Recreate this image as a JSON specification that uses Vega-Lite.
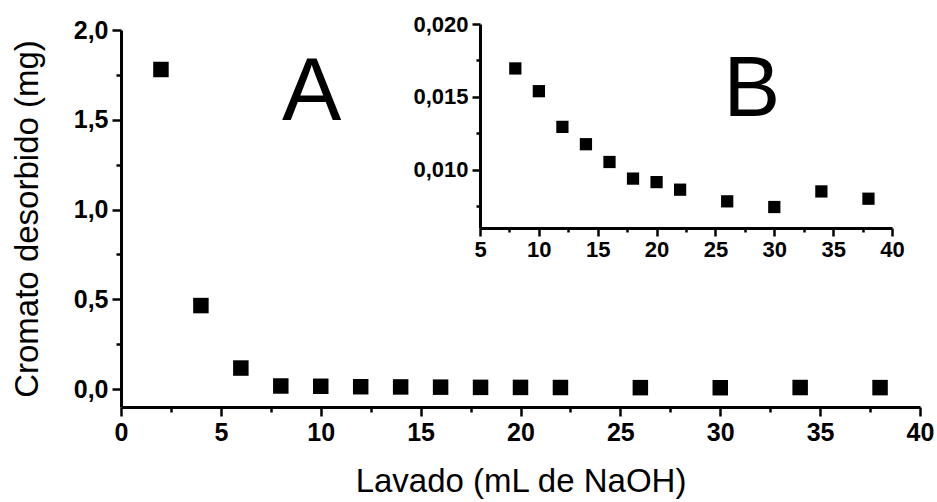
{
  "$schema": "https://vega.github.io/schema/vega-lite/v6.json",
  "width": 799,
  "height": 377,
  "autosize": {"type": "none"},
  "padding": {"left": 121, "top": 30, "right": 17, "bottom": 95},
  "background": "white",
  "config": {"view": {"stroke": null}, "font": "Liberation Sans"},
  "datasets": {
    "main": [
      {"lavado": 2, "cromato": 1.78},
      {"lavado": 4, "cromato": 0.465},
      {"lavado": 6, "cromato": 0.117},
      {"lavado": 8, "cromato": 0.017},
      {"lavado": 10, "cromato": 0.0154},
      {"lavado": 12, "cromato": 0.0129},
      {"lavado": 14, "cromato": 0.0118},
      {"lavado": 16, "cromato": 0.0105},
      {"lavado": 18, "cromato": 0.0094},
      {"lavado": 20, "cromato": 0.0092},
      {"lavado": 22, "cromato": 0.0086},
      {"lavado": 26, "cromato": 0.0078},
      {"lavado": 30, "cromato": 0.0074},
      {"lavado": 34, "cromato": 0.0085},
      {"lavado": 38, "cromato": 0.008}
    ],
    "inset": [
      {"lavado": 8, "cromato": 0.01695},
      {"lavado": 10, "cromato": 0.01539},
      {"lavado": 12, "cromato": 0.01294},
      {"lavado": 14, "cromato": 0.01175},
      {"lavado": 16, "cromato": 0.01053},
      {"lavado": 18, "cromato": 0.00939},
      {"lavado": 20, "cromato": 0.00915},
      {"lavado": 22, "cromato": 0.00863},
      {"lavado": 26, "cromato": 0.00783},
      {"lavado": 30, "cromato": 0.00744},
      {"lavado": 34, "cromato": 0.00851},
      {"lavado": 38, "cromato": 0.00801}
    ],
    "labels": [{"panel": "A"}]
  },
  "layer": [
    {
      "layer": [
        {
          "data": {"name": "main"},
          "mark": {"type": "square", "size": 240, "color": "black", "opacity": 1},
          "encoding": {
            "x": {
              "field": "lavado", "type": "quantitative",
              "scale": {"domain": [0, 40], "nice": false, "zero": false},
              "axis": {
                "title": "Lavado (mL de NaOH)",
                "values": [0, 2.5, 5, 7.5, 10, 12.5, 15, 17.5, 20, 22.5, 25, 27.5, 30, 32.5, 35, 37.5, 40],
                "labelExpr": "datum.value % 5 === 0 ? format(datum.value, 'd') : ''",
                "tickSize": {"condition": {"test": "datum.value % 5 !== 0", "value": 5}, "value": 9},
                "tickWidth": 2.5, "tickColor": "black",
                "domainWidth": 3, "domainColor": "black",
                "grid": false,
                "labelFont": "Liberation Sans", "labelFontWeight": "bold", "labelFontSize": 25, "labelColor": "black",
                "labelPadding": 4, "labelOverlap": false, "labelFlush": false,
                "titleFont": "Liberation Sans", "titleFontWeight": "normal", "titleFontSize": 33, "titleColor": "black",
                "titlePadding": 20
              }
            },
            "y": {
              "field": "cromato", "type": "quantitative",
              "scale": {"domain": [-0.1, 2.0], "nice": false, "zero": false},
              "axis": {
                "title": "Cromato desorbido (mg)",
                "values": [0, 0.25, 0.5, 0.75, 1, 1.25, 1.5, 1.75, 2],
                "labelExpr": "(datum.value * 4) % 2 === 0 ? replace(format(datum.value, '.1f'), '.', ',') : ''",
                "tickSize": {"condition": {"test": "(datum.value * 4) % 2 !== 0", "value": 5}, "value": 9},
                "tickWidth": 2.5, "tickColor": "black",
                "domainWidth": 3, "domainColor": "black",
                "grid": false,
                "labelFont": "Liberation Sans", "labelFontWeight": "bold", "labelFontSize": 25, "labelColor": "black",
                "labelPadding": 4, "labelOverlap": false, "labelFlush": false,
                "titleFont": "Liberation Sans", "titleFontWeight": "normal", "titleFontSize": 33, "titleColor": "black",
                "titlePadding": 29
              }
            }
          }
        },
        {
          "data": {"name": "labels"},
          "mark": {"type": "text", "text": "A", "font": "Liberation Sans", "fontSize": 89, "color": "black", "align": "center", "baseline": "alphabetic"},
          "encoding": {"x": {"datum": 9.55}, "y": {"datum": 1.50}}
        }
      ]
    },
    {
      "layer": [
        {
          "data": {"name": "inset"},
          "mark": {"type": "square", "size": 150, "color": "black", "opacity": 1},
          "encoding": {
            "x": {
              "field": "lavado", "type": "quantitative",
              "scale": {"domain": [5, 40], "range": [359, 771], "nice": false, "zero": false},
              "axis": {
                "orient": "bottom", "offset": -179, "title": null,
                "values": [5, 7.5, 10, 12.5, 15, 17.5, 20, 22.5, 25, 27.5, 30, 32.5, 35, 37.5, 40],
                "labelExpr": "datum.value % 5 === 0 ? format(datum.value, 'd') : ''",
                "tickSize": {"condition": {"test": "datum.value % 5 !== 0", "value": 4}, "value": 8},
                "tickWidth": 2.5, "tickColor": "black",
                "domainWidth": 3, "domainColor": "black",
                "grid": false,
                "labelFont": "Liberation Sans", "labelFontWeight": "bold", "labelFontSize": 22, "labelColor": "black",
                "labelPadding": 3, "labelOverlap": false, "labelFlush": false
              }
            },
            "y": {
              "field": "cromato", "type": "quantitative",
              "scale": {"domain": [0.006, 0.02], "range": [198, -6], "nice": false, "zero": false},
              "axis": {
                "orient": "left", "offset": -359, "title": null,
                "values": [0.0075, 0.01, 0.0125, 0.015, 0.0175, 0.02],
                "labelExpr": "abs(datum.value * 200 - round(datum.value * 200)) < 0.01 ? replace(format(datum.value, '.3f'), '.', ',') : ''",
                "tickSize": {"condition": {"test": "abs(datum.value * 200 - round(datum.value * 200)) > 0.01", "value": 4}, "value": 8},
                "tickWidth": 2.5, "tickColor": "black",
                "domainWidth": 3, "domainColor": "black",
                "grid": false,
                "labelFont": "Liberation Sans", "labelFontWeight": "bold", "labelFontSize": 22, "labelColor": "black",
                "labelPadding": 4, "labelOverlap": false, "labelFlush": false
              }
            }
          }
        },
        {
          "data": {"name": "labels"},
          "mark": {"type": "text", "text": "B", "font": "Liberation Sans", "fontSize": 85, "color": "black", "align": "center", "baseline": "alphabetic"},
          "encoding": {"x": {"datum": 28.1}, "y": {"datum": 0.0137}}
        }
      ]
    }
  ],
  "resolve": {"scale": {"x": "independent", "y": "independent"}, "axis": {"x": "independent", "y": "independent"}}
}
